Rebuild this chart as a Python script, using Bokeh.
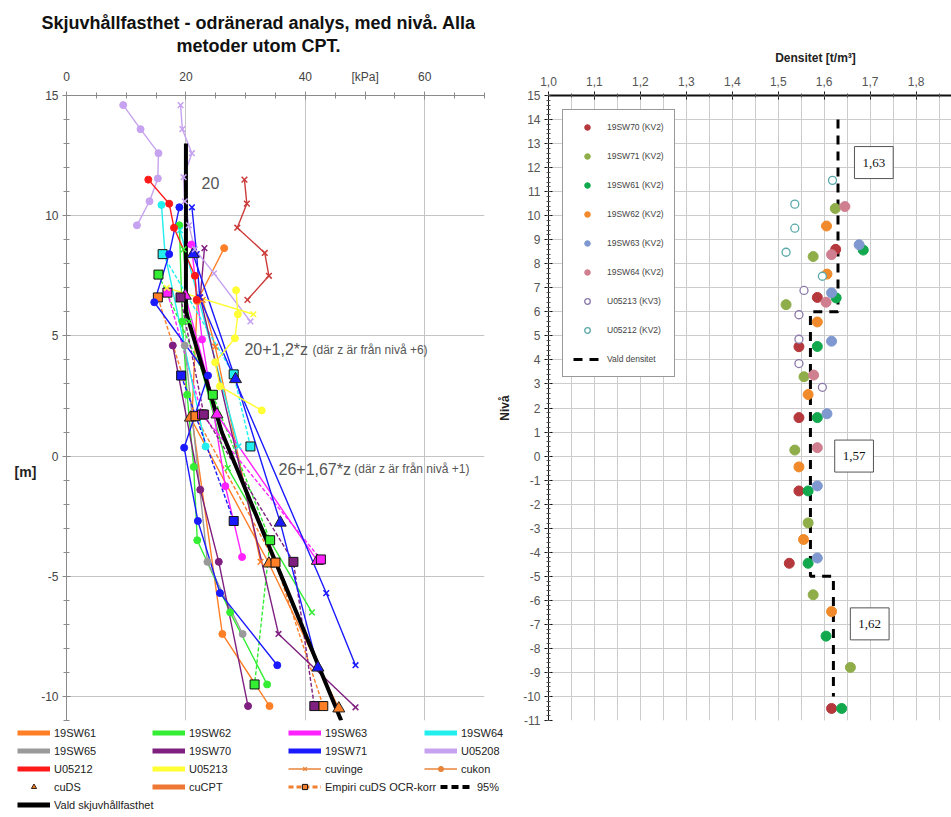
from bokeh.plotting import figure
from bokeh.layouts import column, row
from bokeh.models import (Range1d, SingleIntervalTicker, FixedTicker, Label, Legend, LegendItem,
                          ColumnDataSource, CustomJSTickFormatter)
from bokeh.embed import file_html
from bokeh.resources import INLINE

FONT = "Liberation Sans"
NAN = float("nan")

# ---------------- Skjuvhållfasthet [kPa] mot nivå [m] ----------------
# 19SW61
sw61_kon_cu = [26.4, 21.9, 21.0, 26.1, 34.0]
sw61_kon_niva = [8.65, 6.45, 1.6, -7.4, -10.4]
sw61_vinge_cu = [22.8, 24.9, 32.5]
sw61_vinge_niva = [6.5, 4.55, -4.4]
sw61_ds_cu = [20.75, 33.9, 45.6]
sw61_ds_niva = [1.6, -4.47, -10.5]
sw61_emp_cu = [15.3, 21.6, 35.0, 43.0]
sw61_emp_niva = [6.6, 1.66, -4.43, -10.4]
# 19SW62
sw62_kon_cu = [18.9, 19.4, 20.2, 21.3, 21.9, 27.4, 33.6]
sw62_kon_niva = [9.6, 5.6, 2.55, -0.45, -3.5, -6.5, -9.5]
sw62_vinge_cu = [19.6, 20.5, 27.0, 41.1]
sw62_vinge_niva = [8.6, 5.6, -0.5, -6.5]
sw62_emp_cu = [15.4, 24.5, 34.1, 31.5]
sw62_emp_niva = [7.55, 2.55, -3.5, -9.5]
# 19SW63
sw63_kon_cu = [20.9, 22.7, 26.6, 29.4]
sw63_kon_niva = [8.8, 4.85, -1.25, -4.2]
sw63_ds_cu = [19.9, 25.2, 42.0]
sw63_ds_niva = [6.67, 1.73, -4.36]
sw63_emp_cu = [16.9, 22.7, 42.6]
sw63_emp_niva = [6.8, 1.73, -4.3]
# 19SW64
sw64_kon_cu = [15.9, 16.5, 23.3]
sw64_kon_niva = [10.45, 8.4, 0.4]
sw64_vinge_cu = [19.0, 28.8]
sw64_vinge_niva = [9.4, 0.4]
sw64_emp_cu = [16.1, 28.0, 30.8]
sw64_emp_niva = [8.4, 3.4, 0.4]
# 19SW65
sw65_kon_cu = [19.8, 23.6, 29.5]
sw65_kon_niva = [4.6, -4.4, -7.4]
# 19SW70
sw70_kon_cu = [17.8, 22.4, 25.5, 30.4]
sw70_kon_niva = [4.6, -1.4, -4.4, -10.4]
sw70_vinge_cu = [23.1, 22.4, 35.5, 48.4]
sw70_vinge_niva = [8.65, 6.6, -7.4, -10.45]
sw70_emp_cu = [19.1, 23.0, 38.0, 41.5]
sw70_emp_niva = [6.6, 1.73, -4.4, -10.4]
# 19SW71
sw71_kon_cu = [18.9, 17.2, 14.7, 23.7, 19.7, 22.0, 25.7, 35.3]
sw71_kon_niva = [10.35, 8.4, 6.4, 3.35, 0.35, -2.7, -5.7, -8.7]
sw71_vinge_cu = [21.0, 21.8, 22.3, 43.5, 48.4]
sw71_vinge_niva = [10.35, 8.4, 6.6, -5.7, -8.7]
sw71_ds_cu = [21.2, 28.3, 35.8, 42.1]
sw71_ds_niva = [8.4, 3.2, -2.77, -8.8]
sw71_emp_cu = [19.2, 28.0]
sw71_emp_niva = [3.35, -2.7]
# U05208
u08_kon_cu = [9.5, 12.4, 15.4, 15.3, 13.9, 11.8]
u08_kon_niva = [14.6, 13.6, 12.6, 11.55, 10.6, 9.6]
u08_vinge_cu = [19.1, 19.4, 21.0, 19.6, 19.8, 20.5, 21.5, 24.7, 30.8]
u08_vinge_niva = [14.6, 13.6, 12.6, 11.6, 10.6, 9.6, 8.6, 7.6, 5.6]
# U05212
u12_kon_cu = [13.7, 17.2, 18.0, 21.5, 21.8]
u12_kon_niva = [11.5, 10.5, 9.5, 7.5, 6.5]
u12_vinge_cu = [29.8, 30.2, 28.6, 33.2, 33.9, 30.3]
u12_vinge_niva = [11.5, 10.5, 9.5, 8.45, 7.5, 6.5]
# U05213
u13_kon_cu = [28.4, 28.7, 28.2, 24.9, 25.7, 32.7]
u13_kon_niva = [6.9, 5.9, 4.9, 3.9, 2.9, 1.9]
u13_vinge_cu = [16.8, 31.3]
u13_vinge_niva = [7.0, 5.9]
# Vald skjuvhållfasthet: 20, 20+1,2*z (från +6), 26+1,67*z (från +1)
vald_cu = [20.0, 20.0, 26.0, 46.0]
vald_niva = [13.0, 6.0, 1.0, -11.0]

# ---------------- Densitet [t/m3] mot nivå ----------------
d_sw70_rho = [1.625, 1.585, 1.545, 1.545, 1.545, 1.524, 1.616]
d_sw70_niva = [8.6, 6.6, 4.55, 1.6, -1.45, -4.46, -10.5]
d_sw71_rho = [1.624, 1.576, 1.517, 1.556, 1.536, 1.565, 1.576, 1.657]
d_sw71_niva = [10.3, 8.3, 6.3, 3.3, 0.25, -2.78, -5.77, -8.79]
d_sw61_rho = [1.685, 1.626, 1.585, 1.585, 1.565, 1.565, 1.604, 1.638]
d_sw61_niva = [8.57, 6.58, 4.56, 1.6, -1.45, -4.46, -7.49, -10.5]
d_sw62_rho = [1.605, 1.606, 1.585, 1.565, 1.545, 1.555, 1.616]
d_sw62_niva = [9.57, 7.57, 5.58, 2.56, -0.45, -3.47, -6.47]
d_sw63_rho = [1.676, 1.616, 1.616, 1.606, 1.585, 1.585]
d_sw63_niva = [8.79, 6.79, 4.78, 1.76, -1.24, -4.24]
d_sw64_rho = [1.645, 1.616, 1.604, 1.577, 1.585]
d_sw64_niva = [10.38, 8.38, 6.40, 3.37, 0.35]
d_u13_rho = [1.556, 1.545, 1.545, 1.545, 1.596]
d_u13_niva = [6.89, 5.88, 4.86, 3.85, 2.86]
d_u12_rho = [1.618, 1.536, 1.536, 1.517, 1.596]
d_u12_niva = [11.47, 10.48, 9.48, 8.48, 7.48]
vald_rho = [1.63, 1.63, 1.57, 1.57, 1.62, 1.62]
vald_rho_niva = [14.0, 6.0, 6.0, -5.0, -5.0, -10.0]
vald_rho_text = ["1,63", "1,57", "1,62"]

C = {
    "19SW61": "#ff7f27", "19SW62": "#33ee33", "19SW63": "#ff22ff", "19SW64": "#22eeee",
    "19SW65": "#9a9a9a", "19SW70": "#7f1f7f", "19SW71": "#1a1aff", "U05208": "#c6a2f0",
    "U05212": "#ff1a1a", "U05213": "#ffff33",
}

series = [
    (sw61_kon_cu, sw61_kon_niva, C["19SW61"], "kon"),
    (sw61_vinge_cu, sw61_vinge_niva, C["19SW61"], "vinge"),
    (sw61_ds_cu, sw61_ds_niva, C["19SW61"], "ds"),
    (sw61_emp_cu, sw61_emp_niva, C["19SW61"], "emp"),
    (sw62_kon_cu, sw62_kon_niva, C["19SW62"], "kon"),
    (sw62_vinge_cu, sw62_vinge_niva, C["19SW62"], "vinge"),
    (sw62_emp_cu, sw62_emp_niva, C["19SW62"], "emp"),
    (sw63_kon_cu, sw63_kon_niva, C["19SW63"], "kon"),
    (sw63_ds_cu, sw63_ds_niva, C["19SW63"], "ds"),
    (sw63_emp_cu, sw63_emp_niva, C["19SW63"], "emp"),
    (sw64_kon_cu, sw64_kon_niva, C["19SW64"], "kon"),
    (sw64_vinge_cu, sw64_vinge_niva, C["19SW64"], "vinge"),
    (sw64_emp_cu, sw64_emp_niva, C["19SW64"], "emp"),
    (sw65_kon_cu, sw65_kon_niva, C["19SW65"], "kon"),
    (sw70_kon_cu, sw70_kon_niva, C["19SW70"], "kon"),
    (sw70_vinge_cu, sw70_vinge_niva, C["19SW70"], "vinge"),
    (sw70_emp_cu, sw70_emp_niva, C["19SW70"], "emp"),
    (sw71_kon_cu, sw71_kon_niva, C["19SW71"], "kon"),
    (sw71_vinge_cu, sw71_vinge_niva, C["19SW71"], "vinge"),
    (sw71_ds_cu, sw71_ds_niva, C["19SW71"], "ds"),
    (sw71_emp_cu, sw71_emp_niva, C["19SW71"], "emp"),
    (u08_kon_cu, u08_kon_niva, C["U05208"], "kon"),
    (u08_vinge_cu, u08_vinge_niva, C["U05208"], "vinge"),
    (u12_kon_cu, u12_kon_niva, C["U05212"], "kon"),
    (u12_vinge_cu, u12_vinge_niva, "#cc3a3a", "vinge"),
    (u13_kon_cu, u13_kon_niva, C["U05213"], "kon"),
    (u13_vinge_cu, u13_vinge_niva, C["U05213"], "vinge"),
]


def blank(width, height, flip=True):
    """Axis-free canvas whose ranges are in page pixels (y downwards)."""
    f = figure(width=width, height=height, x_range=Range1d(0, width),
               y_range=Range1d(height, 0) if flip else Range1d(0, height),
               x_axis_type=None, y_axis_type=None, output_backend="svg",
               toolbar_location=None, min_border=0)
    f.outline_line_color = None
    return f


def ltext(fig, x, y, text, size, bold=False, align="left", color="#444444", font=FONT):
    fig.add_layout(Label(x=x, y=y, text=text, text_font=font, text_font_size=size,
                         text_font_style="bold" if bold else "normal", text_align=align,
                         text_baseline="middle", text_color=color))


# ======================= Rubriker =======================
head = blank(951, 66)
ltext(head, 258, 22, "Skjuvhållfasthet - odränerad analys, med nivå. Alla", "18px", True, "center", "#111111")
ltext(head, 258, 45, "metoder utom CPT.", "18px", True, "center", "#111111")
ltext(head, 815, 57, "Densitet [t/m³]", "12px", True, "center", "#222222")

# enhet för nivåaxeln
mfig = blank(38, 662)
ltext(mfig, 25, 399, "[m]", "14px", True, "center", "#222222")

# ======================= Skjuvhållfasthet =======================
left = figure(width=457, height=662, x_range=Range1d(0, 70), y_range=Range1d(-11, 15),
              x_axis_location="above", output_backend="svg", toolbar_location=None,
              min_border_left=28, min_border_right=11, min_border_top=27, min_border_bottom=8)
left.outline_line_color = None
left.xaxis.ticker = FixedTicker(ticks=[0, 20, 40, 50, 60], minor_ticks=list(range(0, 71, 5)))
left.xaxis.formatter = CustomJSTickFormatter(
    code="return Math.abs(tick - 50) < 1e-6 ? '[kPa]' : tick.toString()")
left.xgrid.ticker = FixedTicker(ticks=[0, 20, 40, 60])
left.yaxis.ticker = SingleIntervalTicker(interval=5, num_minor_ticks=5)
left.yaxis.formatter = CustomJSTickFormatter(code="return tick.toString()")
for ax in (left.xaxis[0], left.yaxis[0]):
    ax.axis_line_color = "#8a8a8a"
    ax.major_tick_line_color = "#8a8a8a"
    ax.minor_tick_line_color = "#8a8a8a"
    ax.major_tick_in = 4
    ax.major_tick_out = 4
    ax.minor_tick_in = 3
    ax.minor_tick_out = 3
    ax.major_label_text_font = FONT
    ax.major_label_text_font_size = "12px"
    ax.major_label_text_color = "#444444"
left.xaxis.major_label_standoff = 8
left.yaxis.major_label_standoff = 4
left.grid.grid_line_color = "#c4c4c4"

# connecting lines
for cu, niva, col, kind in series:
    src = ColumnDataSource(dict(cu=cu, niva=niva))
    dash = "4 2" if kind == "emp" else "solid"
    left.line("cu", "niva", source=src, line_color=col, line_width=1.4, line_dash=dash)

left.line(vald_cu, vald_niva, line_color="black", line_width=4)

# markers
for cu, niva, col, kind in series:
    src = ColumnDataSource(dict(cu=cu, niva=niva))
    if kind == "kon":
        left.scatter("cu", "niva", source=src, marker="circle", size=7, fill_color=col, line_color=col)
    elif kind == "vinge":
        left.scatter("cu", "niva", source=src, marker="x", size=8, line_color=col, line_width=1.5)
    elif kind == "ds":
        left.scatter("cu", "niva", source=src, marker="triangle", size=12, fill_color=col,
                     line_color="#222222", line_width=1)
    else:
        left.scatter("cu", "niva", source=src, marker="square", size=9, fill_color=col,
                     line_color="#111111", line_width=1)

ltext(left, 24.1, 11.35, "20", "16px", False, "center", "#555555")
ltext(left, 29.8, 4.42, "20+1,2*z", "16px", False, "left", "#555555")
ltext(left, 41.2, 4.42, "(där z är från nivå +6)", "12px", False, "left", "#555555")
ltext(left, 35.5, -0.55, "26+1,67*z", "16px", False, "left", "#555555")
ltext(left, 48.2, -0.55, "(där z är från nivå +1)", "12px", False, "left", "#555555")

# ======================= Densitet =======================
right = figure(width=456, height=662, x_range=Range1d(1.0, 1.877), y_range=Range1d(-11, 15),
               x_axis_location="above", output_backend="svg", toolbar_location=None,
               min_border_left=49, min_border_right=0, min_border_top=27, min_border_bottom=6)
right.outline_line_color = None
right.xaxis.ticker = SingleIntervalTicker(interval=0.1, num_minor_ticks=2)
right.xaxis.formatter = CustomJSTickFormatter(code="return tick.toFixed(1).replace('.', ',')")
right.yaxis.ticker = SingleIntervalTicker(interval=1, num_minor_ticks=5)
right.yaxis.formatter = CustomJSTickFormatter(code="return Math.round(tick).toString()")
for ax in (right.xaxis[0], right.yaxis[0]):
    ax.axis_line_color = "#111111"
    ax.major_tick_line_color = "#111111"
    ax.minor_tick_line_color = "#555555"
    ax.major_tick_in = 4
    ax.major_tick_out = 4
    ax.minor_tick_in = 2
    ax.minor_tick_out = 2
    ax.major_label_text_font = FONT
    ax.major_label_text_font_size = "12px"
    ax.major_label_text_color = "#555555"
right.xaxis.axis_line_width = 2
right.xaxis.major_label_standoff = 6
right.yaxis.major_label_standoff = 4
right.yaxis.axis_label = "Nivå"
right.yaxis.axis_label_text_font = FONT
right.yaxis.axis_label_text_font_size = "12px"
right.yaxis.axis_label_text_font_style = "bold"
right.yaxis.axis_label_text_color = "#222222"
right.yaxis.axis_label_standoff = 8
right.xgrid.grid_line_color = "#cccccc"
right.xgrid.minor_grid_line_color = "#cccccc"
right.ygrid.grid_line_color = "#cccccc"

dens = [
    ("19SW70 (KV2)", d_sw70_rho, d_sw70_niva, "#b5383c", True),
    ("19SW71 (KV2)", d_sw71_rho, d_sw71_niva, "#8fae4a", True),
    ("19SW61 (KV2)", d_sw61_rho, d_sw61_niva, "#12a84e", True),
    ("19SW62 (KV2)", d_sw62_rho, d_sw62_niva, "#f08a2a", True),
    ("19SW63 (KV2)", d_sw63_rho, d_sw63_niva, "#7f98d0", True),
    ("19SW64 (KV2)", d_sw64_rho, d_sw64_niva, "#cf7f8f", True),
    ("U05213 (KV3)", d_u13_rho, d_u13_niva, "#8a78a8", False),
    ("U05212 (KV2)", d_u12_rho, d_u12_niva, "#5aa8a8", False),
]
items = []
vald_r = right.line(vald_rho, vald_rho_niva, line_color="black", line_width=3, line_dash="9 7")
for label, rho, niva, col, filled in dens:
    src = ColumnDataSource(dict(rho=rho, niva=niva))
    if filled:
        r = right.scatter("rho", "niva", source=src, marker="circle", size=10,
                          fill_color=col, line_color=col)
    else:
        r = right.scatter("rho", "niva", source=src, marker="circle", size=8,
                          fill_color="white", line_color=col, line_width=1.3)
    items.append(LegendItem(label=label, renderers=[r]))
items.append(LegendItem(label="Vald densitet", renderers=[vald_r]))

rleg = Legend(items=items, location="top_left", margin=14, padding=10, spacing=15,
              glyph_height=14, glyph_width=28, label_height=14, label_standoff=6,
              label_text_font=FONT, label_text_font_size="8.5px", label_text_color="#444444",
              border_line_color="#333333", border_line_width=1, background_fill_color="white",
              background_fill_alpha=1)
right.add_layout(rleg, "center")

for x, y, t in zip([1.708, 1.665, 1.699], [12.21, 0.0, -6.98], vald_rho_text):
    right.add_layout(Label(x=x, y=y, text=t, text_font="Liberation Serif", text_font_size="13px",
                           text_align="center", text_baseline="middle", text_color="#111111",
                           border_line_color="#555555", border_line_width=1,
                           background_fill_color="white", padding=(8, 12)))

# ======================= Teckenförklaring =======================
lf = blank(951, 89, flip=False)


def nan_src():
    return ColumnDataSource(dict(x=[NAN], y=[NAN]))


def bar(col):
    return lf.line("x", "y", source=nan_src(), line_color=col, line_width=5)


def kon_item(col):
    return [lf.line("x", "y", source=nan_src(), line_color=col, line_width=1.5),
            lf.scatter("x", "y", source=nan_src(), marker="circle", size=9, fill_color=col, line_color=col)]


def vinge_item(col):
    return [lf.line("x", "y", source=nan_src(), line_color=col, line_width=1.5),
            lf.scatter("x", "y", source=nan_src(), marker="x", size=9, line_color=col, line_width=1.5)]


leg_orange = "#e8853a"
ds_r = lf.scatter("x", "y", source=nan_src(), marker="triangle", size=9, fill_color="#e8802a",
                  line_color="#3a2010")
cpt_r = lf.line("x", "y", source=nan_src(), line_color="#ee7733", line_width=5)
emp_r = [lf.line("x", "y", source=nan_src(), line_color="#f08030", line_width=3, line_dash="5 3"),
         lf.scatter("x", "y", source=nan_src(), marker="square", size=9, fill_color="#f08030",
                    line_color="#111111")]
p95_r = lf.line("x", "y", source=nan_src(), line_color="black", line_width=4, line_dash="7 4")
vald_leg_r = lf.line("x", "y", source=nan_src(), line_color="black", line_width=5)

columns = [
    (17, 6, [("19SW61", [bar(C["19SW61"])]), ("19SW65", [bar(C["19SW65"])]),
             ("U05212", [bar(C["U05212"])]), ("cuDS", [ds_r]),
             ("Vald skjuvhållfasthet", [vald_leg_r])]),
    (152, 24, [("19SW62", [bar(C["19SW62"])]), ("19SW70", [bar(C["19SW70"])]),
               ("U05213", [bar(C["U05213"])]), ("cuCPT", [cpt_r])]),
    (288, 24, [("19SW63", [bar(C["19SW63"])]), ("19SW71", [bar(C["19SW71"])]),
               ("cuvinge", vinge_item(leg_orange)), ("Empiri cuDS OCR-korr", emp_r)]),
    (424, 42, [("19SW64", [bar(C["19SW64"])]), ("U05208", [bar(C["U05208"])]),
               ("cukon", kon_item(leg_orange))]),
    (440, 24, [("95%", [p95_r])]),
]
for x0, y0, entries in columns:
    leg = Legend(items=[LegendItem(label=lab, renderers=rs) for lab, rs in entries],
                 location=(x0, y0), orientation="vertical", margin=0, padding=0, spacing=5,
                 glyph_height=13, glyph_width=33, label_height=13, label_standoff=4,
                 label_text_font=FONT, label_text_font_size="11px", label_text_color="#222222",
                 border_line_color=None, background_fill_alpha=0)
    lf.add_layout(leg, "center")

page = column(head, row(mfig, left, right), lf)
open("out.html", "w").write(file_html(page, INLINE))
